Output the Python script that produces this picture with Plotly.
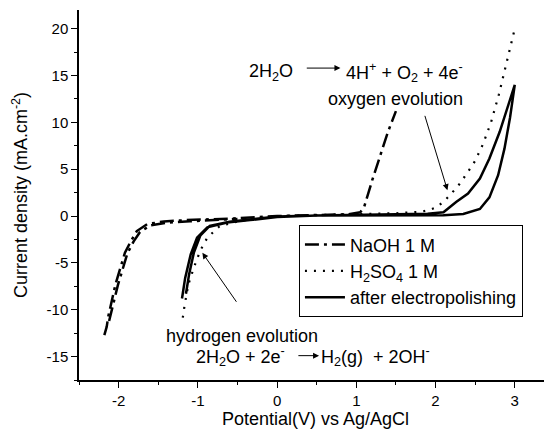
import plotly.graph_objects as go

# ---------------- data ----------------
naoh_x = [-2.18, -2.15, -2.13, -2.08, -2.04, -1.98, -1.92, -1.84, -1.77, -1.64, -1.43, -1.14, -0.55, 0.0, 0.5, 0.9, 1.05, 1.1, 1.2, 1.3, 1.4, 1.5]
naoh_y = [-12.7, -11.8, -10.7, -8.8, -7.3, -5.6, -3.9, -2.6, -1.6, -0.86, -0.57, -0.43, -0.25, 0.0, 0.1, 0.2, 0.4, 1.0, 3.8, 6.5, 9.0, 11.2]
naoh_ret_x = [-2.12, -2.06, -2.01, -1.95, -1.89, -1.81, -1.73, -1.60, -1.40, -1.10, -0.50]
naoh_ret_y = [-11.2, -9.0, -7.4, -5.7, -4.0, -2.7, -1.7, -1.0, -0.72, -0.55, -0.3]

h2so4_x = [-1.19, -1.17, -1.12, -1.05, -0.97, -0.88, -0.72, -0.46, -0.2, 0.0, 0.5, 1.0, 1.5, 1.8, 1.9, 2.0, 2.1, 2.2, 2.3, 2.4, 2.5, 2.6, 2.7, 2.8, 2.9, 3.0]
h2so4_y = [-10.85, -9.67, -7.3, -5.5, -3.7, -2.3, -1.04, -0.5, -0.2, 0.0, 0.1, 0.2, 0.3, 0.45, 0.6, 0.9, 1.5, 2.4, 3.4, 4.6, 5.9, 7.7, 10.0, 13.0, 16.5, 20.0]

elec_x = [-1.20, -1.16, -1.09, -1.01, -0.88, -0.63, -0.34, 0.0, 0.5, 1.0, 1.5, 1.9, 2.1, 2.26, 2.41, 2.56, 2.68, 2.81, 2.92, 3.0,
          2.94, 2.87, 2.79, 2.68, 2.56, 2.35, 2.1, 1.5, 0.5, 0.0, -0.34, -0.60, -0.85, -0.97, -1.05, -1.11, -1.15]
elec_y = [-8.8, -6.6, -4.1, -2.3, -1.2, -0.68, -0.43, -0.1, 0.05, 0.15, 0.2, 0.25, 0.4, 1.5, 2.4, 4.0, 6.15, 9.0, 11.9, 14.0,
          10.5, 7.2, 4.36, 2.0, 0.76, 0.22, 0.1, 0.1, 0.05, -0.05, -0.38, -0.6, -1.05, -2.1, -3.9, -6.2, -8.3]

x_ticks = [-2, -1, 0, 1, 2, 3]
y_ticks = [-15, -10, -5, 0, 5, 10, 15, 20]

FONT = "Liberation Sans, Arial, Helvetica, sans-serif"

fig = go.Figure()
fig.add_trace(go.Scatter(x=naoh_x, y=naoh_y, mode="lines", name="NaOH 1 M",
                         line=dict(color="black", width=2.5, dash="14px,5px,3px,5px")))
fig.add_trace(go.Scatter(x=naoh_ret_x, y=naoh_ret_y, mode="lines", showlegend=False,
                         line=dict(color="black", width=2.5, dash="14px,5px,3px,5px")))
fig.add_trace(go.Scatter(x=h2so4_x, y=h2so4_y, mode="lines", name="H<sub>2</sub>SO<sub>4</sub> 1 M",
                         line=dict(color="black", width=2.2, dash="2px,7px")))
fig.add_trace(go.Scatter(x=elec_x, y=elec_y, mode="lines", name="after electropolishing",
                         line=dict(color="black", width=2.5)))

ann_font = dict(family=FONT, size=18, color="black")
annotations = [
    dict(x=0.22, y=15.3, text="2H<sub>2</sub>O", xanchor="right", yanchor="middle", showarrow=False),
    dict(x=0.84, y=15.3, text="4H<sup>+</sup> + O<sub>2</sub> + 4e<sup>-</sup>", xanchor="left", yanchor="middle", showarrow=False),
    dict(x=0.62, y=12.5, text="oxygen evolution", xanchor="left", yanchor="middle", showarrow=False),
    dict(x=-1.43, y=-12.83, text="hydrogen evolution", xanchor="left", yanchor="middle", showarrow=False),
    dict(x=-1.05, y=-15.0, text="2H<sub>2</sub>O + 2e<sup>-</sup>", xanchor="left", yanchor="middle", showarrow=False),
    dict(x=0.53, y=-15.0, text="H<sub>2</sub>(g)  + 2OH<sup>-</sup>", xanchor="left", yanchor="middle", showarrow=False),
    # arrows
    dict(x=0.80, y=15.8, ax=0.356, ay=15.8, axref="x", ayref="y", text="", showarrow=True,
         arrowhead=2, arrowsize=1.2, arrowwidth=1, arrowcolor="black"),
    dict(x=0.53, y=-14.9, ax=0.25, ay=-14.9, axref="x", ayref="y", text="", showarrow=True,
         arrowhead=2, arrowsize=1.2, arrowwidth=1, arrowcolor="black"),
    dict(x=2.15, y=2.77, ax=1.86, ay=10.86, axref="x", ayref="y", text="", showarrow=True,
         arrowhead=2, arrowsize=1.2, arrowwidth=1, arrowcolor="black"),
    dict(x=-0.943, y=-3.92, ax=-0.50, ay=-9.31, axref="x", ayref="y", text="", showarrow=True,
         arrowhead=2, arrowsize=1.2, arrowwidth=1, arrowcolor="black"),
]
for a in annotations:
    a["font"] = ann_font
    a["xref"] = "x"
    a["yref"] = "y"

# the page body has an 8px default margin, so the figure is 8px smaller and margins shifted
fig.update_layout(
    width=544, height=421,
    margin=dict(l=71, r=0, t=2, b=45),
    paper_bgcolor="white", plot_bgcolor="white",
    font=dict(family=FONT, size=15, color="black"),
    annotations=annotations,
    showlegend=True,
    legend=dict(x=0.465, y=0.418, xanchor="left", yanchor="top",
                bordercolor="black", borderwidth=1, bgcolor="white",
                font=dict(family=FONT, size=18, color="black"),
                itemwidth=40, tracegroupgap=0),
)
fig.update_xaxes(
    range=[-2.5, 3.47], tickmode="array", tickvals=x_ticks, ticktext=[str(v) for v in x_ticks],
    showline=True, linecolor="black", linewidth=1.5, mirror=False,
    ticks="outside", ticklen=6, tickwidth=1.2, tickcolor="black",
    minor=dict(dtick=0.5, ticks="outside", ticklen=3, tickwidth=1.2, tickcolor="black", showgrid=False),
    showgrid=False, zeroline=False,
    tickfont=dict(family=FONT, size=15),
    title=dict(text="Potential(V) vs Ag/AgCl", font=dict(family=FONT, size=18), standoff=8),
)
fig.update_yaxes(
    range=[-17.5, 22], tickmode="array", tickvals=y_ticks, ticktext=[str(v) for v in y_ticks],
    showline=True, linecolor="black", linewidth=1.5, mirror=False,
    ticks="outside", ticklen=6, tickwidth=1.2, tickcolor="black",
    minor=dict(dtick=2.5, ticks="outside", ticklen=3, tickwidth=1.2, tickcolor="black", showgrid=False),
    showgrid=False, zeroline=False,
    tickfont=dict(family=FONT, size=15),
    title=dict(text="Current density (mA.cm<sup>-2</sup>)", font=dict(family=FONT, size=18), standoff=14),
)
fig.write_html("out.html")
